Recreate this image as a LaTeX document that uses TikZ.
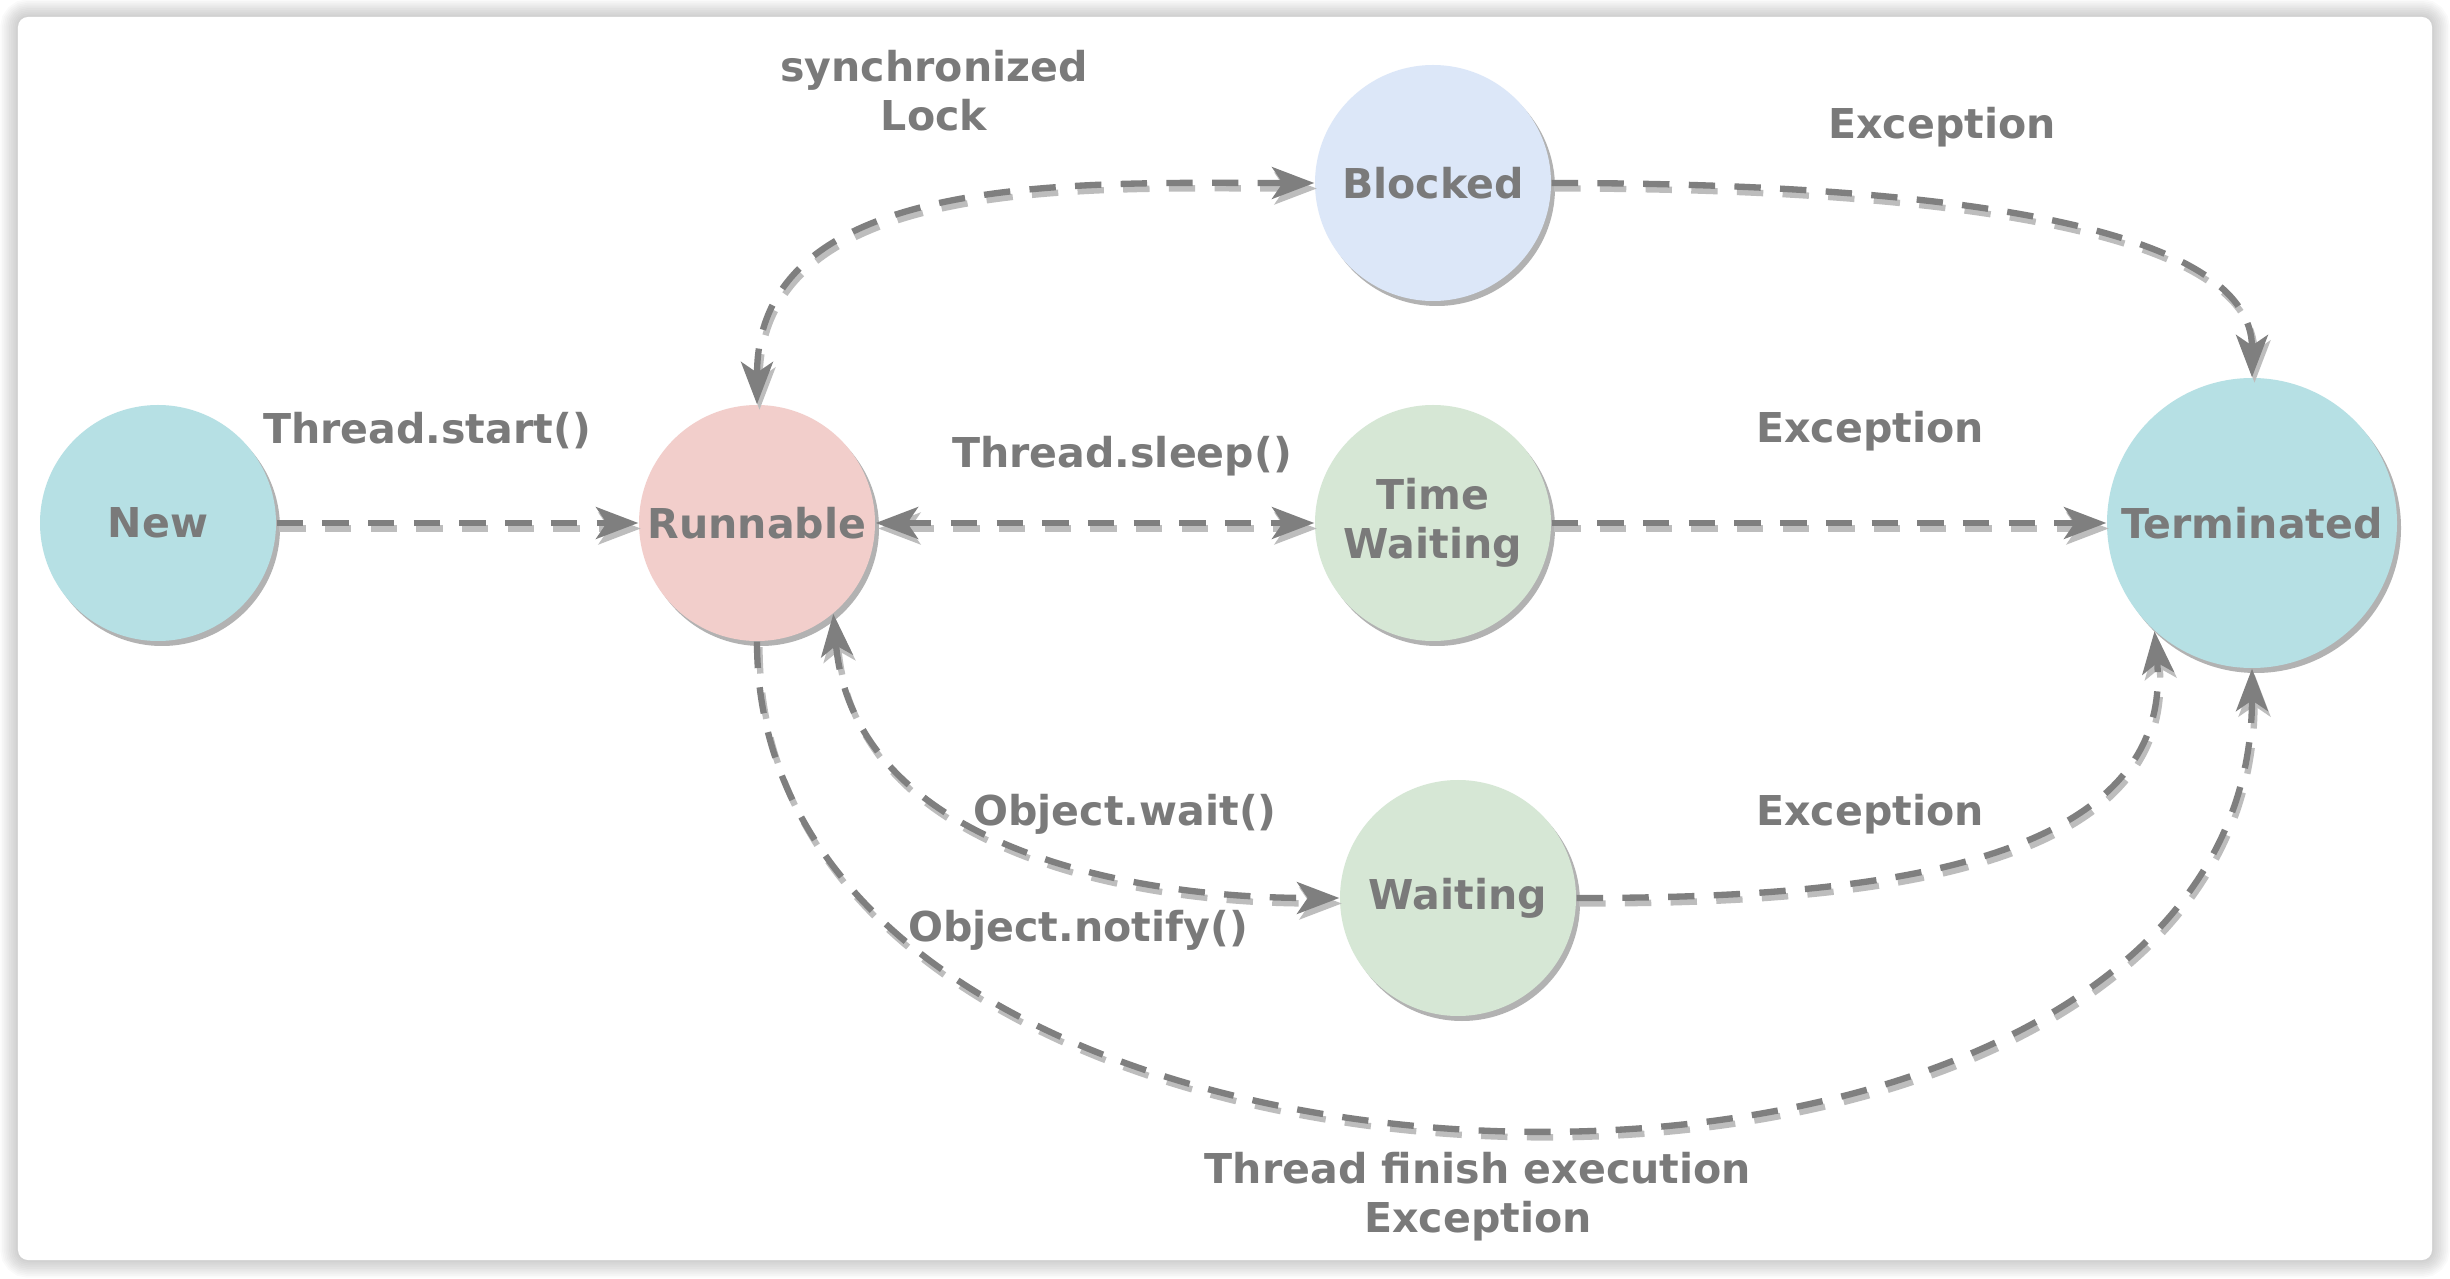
\documentclass[tikz,border=0pt]{standalone}
\usepackage{fontspec}
\setmainfont{DejaVu Sans}
\usepackage{tikz}
\usetikzlibrary{arrows.meta,shadows}

\definecolor{txtgray}{HTML}{7A7A7A}
\definecolor{linegray}{HTML}{7F7F7F}
\definecolor{dashshade}{HTML}{BDBDBD}
\definecolor{tealfill}{HTML}{B6E0E4}
\definecolor{pinkfill}{HTML}{F2CECB}
\definecolor{bluefill}{HTML}{DCE7F8}
\definecolor{greenfill}{HTML}{D6E7D5}

\begin{document}
\begin{tikzpicture}[
    state/.style={circle, minimum size=2.36cm, inner sep=0pt, align=center,
        drop shadow={shadow xshift=0.04cm, shadow yshift=-0.05cm, fill=black!30, opacity=1}},
    lbl/.style={align=center},
    trans/.style={line width=1.8pt, draw=linegray, dash pattern=on 7.5pt off 5.5pt,
        preaction={draw=dashshade, line width=1.8pt, dash pattern=on 7.5pt off 5.5pt,
            transform canvas={shift={(0.025,-0.055)}}}},
    font=\bfseries\fontsize{11.7}{14}\selectfont, text=txtgray,
    >={Stealth[length=12pt,width=9pt,inset=3pt]}
    ]
    \useasboundingbox (0,0) rectangle (24.5,12.78);
    \foreach \w in {1,...,10}
        \draw [black, opacity=0.02, line width=\w pt, rounded corners=0.1cm] (0.18,0.18) rectangle (24.32,12.61);
    \fill [white, rounded corners=0.1cm] (0.18,0.18) rectangle (24.32,12.61);

    \node [state, fill=tealfill] (new) at (1.58,7.55) {New};
    \node [state, fill=pinkfill] (runnable) at (7.57,7.55) {Runnable};
    \node [state, fill=bluefill] (blocked) at (14.33,10.95) {Blocked};
    \node [state, fill=greenfill] (timewait) at (14.33,7.55) {Time\\Waiting};
    \node [state, fill=greenfill] (waiting) at (14.58,3.80) {Waiting};
    \node [state, fill=tealfill, minimum size=2.9cm] (terminated) at (22.52,7.55) {Terminated};

    \draw [trans,->] (new) -- (runnable);
    \draw [trans,<->] (runnable.north) to [out=90, in=180] (blocked.west);
    \draw [trans,<->] (runnable) -- (timewait);
    \draw [trans,->] (blocked.east) to [out=0, in=90, out looseness=1.4, in looseness=0.53] (terminated.north);
    \draw [trans,->] (timewait) -- (terminated);
    \draw [trans,<->] (runnable.-50) to [out=-85, in=180] (waiting.west);
    \draw [trans,->] (waiting.east) to [out=0, in=-85] (terminated.-132);
    \draw [trans,->] (runnable.south) .. controls +(0,-6.3) and +(0,-6.3) .. (terminated.south);

    \node [lbl] (lsync) at (9.34,11.87) {synchronized\\Lock};
    \node (lexblock) at (19.42,11.51) {Exception};
    \node (lstart) at (4.27,8.47) {Thread.start()};
    \node (lsleep) at (11.22,8.22) {Thread.sleep()};
    \node (lextime) at (18.70,8.47) {Exception};
    \node (lwait) at (11.25,4.64) {Object.wait()};
    \node (lexwait) at (18.70,4.64) {Exception};
    \node (lnotify) at (10.78,3.48) {Object.notify()};
    \node [lbl] (lfinish) at (14.78,0.81) {Thread finish execution\\Exception};
\end{tikzpicture}
\end{document}
